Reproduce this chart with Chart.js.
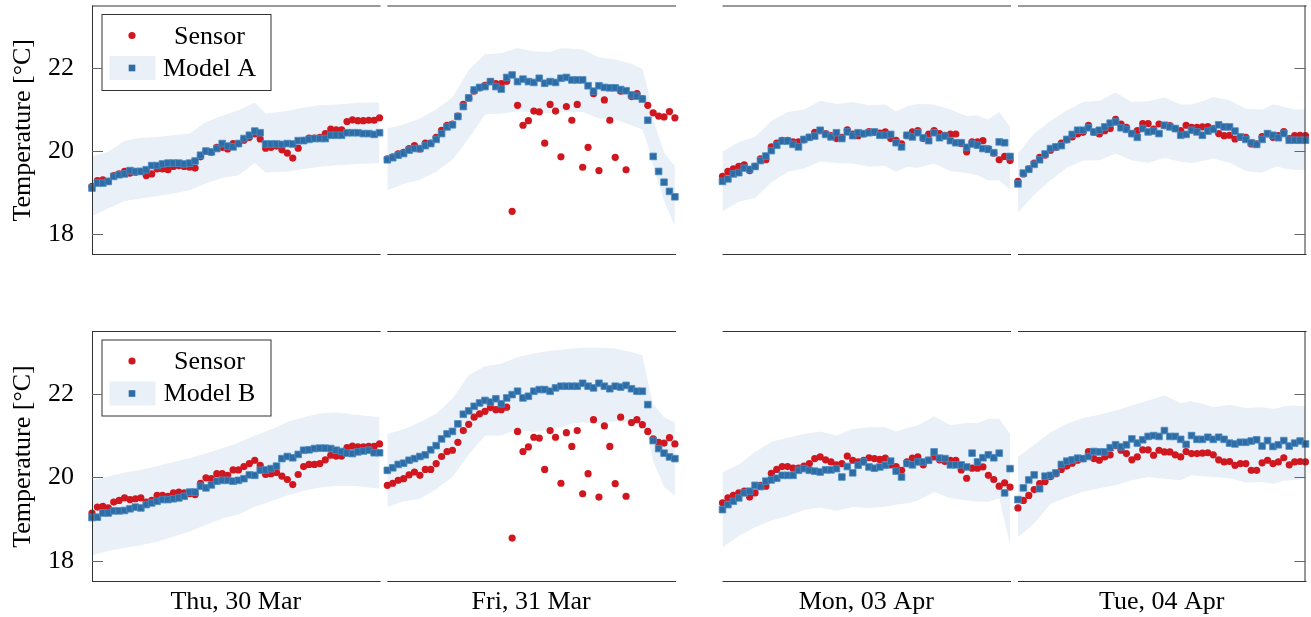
<!DOCTYPE html>
<html>
<head>
<meta charset="utf-8">
<script src="https://cdn.jsdelivr.net/npm/chart.js@4.4.1/dist/chart.umd.min.js"></script>
<style>
  html, body { margin: 0; padding: 0; background: #fff; }
  .row { position: absolute; left: 0; width: 1311px; }
  #rowA { top: 0; height: 300px; }
  #rowB { top: 300px; height: 317px; }
</style>
</head>
<body>
<div class="row" id="rowA"><canvas id="chartA"></canvas></div>
<div class="row" id="rowB"><canvas id="chartB"></canvas></div>
<script>
const days = ["Thu, 30 Mar", "Fri, 31 Mar", "Mon, 03 Apr", "Tue, 04 Apr"];
const yTicks = [18, 20, 22];

// 15-minute samples, one list per day
const sensorThu = [19.15, 19.29, 19.31, 19.27, 19.41, 19.45, 19.51, 19.47, 19.49, 19.51, 19.41, 19.45, 19.57, 19.57, 19.55, 19.63, 19.65, 19.63, 19.61, 19.59, 19.86, 19.99, 19.97, 20.09, 20.09, 20.05, 20.18, 20.18, 20.26, 20.33, 20.41, 20.29, 20.07, 20.09, 20.12, 20.03, 19.95, 19.83, 20.07, 20.26, 20.31, 20.31, 20.33, 20.42, 20.53, 20.51, 20.51, 20.71, 20.75, 20.73, 20.73, 20.74, 20.74, 20.80];
const sensorFri = [19.81, 19.86, 19.93, 19.97, 20.06, 20.13, 20.05, 20.19, 20.19, 20.33, 20.50, 20.62, 20.65, 20.84, 21.12, 21.27, 21.44, 21.52, 21.58, 21.67, 21.62, 21.62, 21.68, 18.55, 21.10, 20.62, 20.73, 20.96, 20.94, 20.19, 21.12, 20.96, 19.86, 21.07, 20.74, 21.12, 19.61, 20.09, 21.38, 19.53, 21.23, 20.74, 19.85, 21.44, 19.55, 21.31, 21.38, 21.26, 21.10, 20.92, 20.84, 20.82, 20.95, 20.80];
const sensorMon = [19.39, 19.51, 19.57, 19.63, 19.67, 19.53, 19.63, 19.81, 19.79, 20.10, 20.19, 20.26, 20.26, 20.22, 20.22, 20.27, 20.33, 20.45, 20.49, 20.42, 20.37, 20.30, 20.33, 20.51, 20.41, 20.37, 20.41, 20.47, 20.45, 20.43, 20.46, 20.30, 20.26, 20.17, 20.37, 20.46, 20.49, 20.30, 20.41, 20.49, 20.42, 20.38, 20.41, 20.41, 20.18, 19.98, 20.22, 20.22, 20.25, 20.05, 19.95, 19.79, 19.87, 19.77];
const sensorTue = [19.27, 19.45, 19.57, 19.71, 19.85, 19.90, 20.02, 20.09, 20.19, 20.27, 20.34, 20.41, 20.45, 20.62, 20.45, 20.41, 20.49, 20.54, 20.76, 20.65, 20.57, 20.42, 20.49, 20.66, 20.66, 20.53, 20.65, 20.61, 20.61, 20.54, 20.49, 20.62, 20.57, 20.57, 20.58, 20.59, 20.54, 20.42, 20.37, 20.38, 20.29, 20.33, 20.33, 20.17, 20.17, 20.35, 20.41, 20.33, 20.37, 20.47, 20.30, 20.37, 20.38, 20.37];

const modelAThu = [19.11, 19.23, 19.23, 19.27, 19.39, 19.43, 19.45, 19.53, 19.51, 19.51, 19.55, 19.65, 19.65, 19.69, 19.71, 19.71, 19.71, 19.69, 19.71, 19.76, 19.90, 20.00, 19.98, 20.06, 20.18, 20.12, 20.10, 20.18, 20.30, 20.38, 20.48, 20.44, 20.17, 20.17, 20.17, 20.16, 20.18, 20.17, 20.25, 20.25, 20.28, 20.30, 20.30, 20.30, 20.38, 20.38, 20.38, 20.44, 20.44, 20.44, 20.42, 20.42, 20.40, 20.44];
const modelAFri = [19.79, 19.84, 19.90, 19.94, 20.02, 20.06, 20.06, 20.13, 20.18, 20.28, 20.42, 20.58, 20.63, 20.83, 21.07, 21.28, 21.47, 21.53, 21.55, 21.67, 21.55, 21.49, 21.77, 21.83, 21.67, 21.73, 21.67, 21.65, 21.75, 21.63, 21.67, 21.65, 21.75, 21.77, 21.71, 21.71, 21.71, 21.57, 21.44, 21.57, 21.53, 21.52, 21.52, 21.48, 21.45, 21.35, 21.32, 21.25, 20.74, 19.87, 19.51, 19.25, 19.03, 18.90];
const modelAMon = [19.27, 19.33, 19.45, 19.48, 19.59, 19.56, 19.63, 19.77, 19.88, 20.01, 20.14, 20.24, 20.24, 20.16, 20.10, 20.28, 20.33, 20.36, 20.50, 20.40, 20.34, 20.44, 20.30, 20.46, 20.37, 20.44, 20.42, 20.44, 20.46, 20.38, 20.38, 20.40, 20.20, 20.10, 20.38, 20.34, 20.44, 20.32, 20.25, 20.44, 20.32, 20.36, 20.25, 20.20, 20.20, 20.09, 20.17, 20.14, 20.06, 20.04, 19.96, 20.22, 20.20, 19.87];
const modelATue = [19.21, 19.47, 19.56, 19.68, 19.79, 19.93, 20.06, 20.10, 20.13, 20.28, 20.40, 20.50, 20.50, 20.56, 20.46, 20.50, 20.58, 20.67, 20.70, 20.56, 20.52, 20.42, 20.33, 20.54, 20.46, 20.48, 20.42, 20.62, 20.58, 20.54, 20.38, 20.40, 20.50, 20.46, 20.38, 20.48, 20.52, 20.63, 20.58, 20.58, 20.48, 20.34, 20.28, 20.20, 20.16, 20.28, 20.42, 20.38, 20.32, 20.42, 20.26, 20.26, 20.26, 20.26];

const modelBThu = [19.04, 19.05, 19.15, 19.15, 19.20, 19.20, 19.21, 19.25, 19.29, 19.27, 19.35, 19.39, 19.43, 19.47, 19.47, 19.49, 19.51, 19.55, 19.65, 19.65, 19.79, 19.75, 19.82, 19.91, 19.93, 19.93, 19.91, 19.93, 19.97, 20.06, 20.05, 20.17, 20.18, 20.21, 20.27, 20.45, 20.50, 20.47, 20.55, 20.65, 20.66, 20.69, 20.70, 20.70, 20.69, 20.65, 20.62, 20.58, 20.57, 20.61, 20.63, 20.65, 20.59, 20.59];
const modelBFri = [20.17, 20.23, 20.31, 20.34, 20.41, 20.45, 20.50, 20.54, 20.66, 20.76, 20.92, 21.04, 21.10, 21.28, 21.51, 21.59, 21.70, 21.78, 21.84, 21.80, 21.88, 21.76, 21.90, 21.98, 22.06, 21.90, 21.94, 22.06, 22.10, 22.10, 22.06, 22.14, 22.18, 22.18, 22.18, 22.18, 22.25, 22.18, 22.14, 22.25, 22.18, 22.12, 22.18, 22.16, 22.20, 22.12, 22.06, 22.06, 21.74, 20.88, 20.69, 20.58, 20.49, 20.45];
const modelBMon = [19.23, 19.35, 19.43, 19.51, 19.63, 19.67, 19.81, 19.78, 19.91, 19.94, 19.98, 20.05, 20.05, 20.05, 20.17, 20.21, 20.17, 20.15, 20.13, 20.18, 20.18, 20.21, 20.01, 20.26, 20.11, 20.29, 20.37, 20.25, 20.22, 20.25, 20.29, 20.39, 20.15, 20.01, 20.33, 20.30, 20.37, 20.37, 20.41, 20.61, 20.46, 20.45, 20.30, 20.30, 20.30, 20.25, 20.58, 20.37, 20.47, 20.54, 20.47, 20.58, 19.63, 20.21];
const modelBTue = [19.47, 19.75, 19.94, 20.06, 19.73, 20.03, 20.05, 20.11, 20.31, 20.39, 20.42, 20.46, 20.45, 20.50, 20.62, 20.61, 20.61, 20.71, 20.78, 20.73, 20.78, 20.92, 20.82, 20.90, 20.98, 21.00, 20.98, 21.12, 20.98, 20.98, 20.91, 20.79, 21.00, 20.91, 20.91, 20.96, 20.91, 20.96, 20.91, 20.82, 20.80, 20.84, 20.84, 20.87, 20.90, 20.75, 20.88, 20.74, 20.78, 20.88, 20.75, 20.82, 20.87, 20.80];

// uncertainty band, sampled at these sample indices
const bandIdx = [0, 3, 6, 9, 12, 15, 18, 21, 24, 27, 30, 32, 34, 36, 39, 42, 45, 47, 48, 49, 51, 53];

const bandAUpThu = [19.87, 19.98, 20.25, 20.32, 20.34, 20.38, 20.42, 20.70, 20.85, 20.98, 21.17, 20.90, 20.93, 20.96, 21.05, 21.10, 21.12, 21.14, 21.15, 21.16, 21.17, 21.17];
const bandALoThu = [18.44, 18.62, 18.80, 18.86, 18.92, 18.98, 19.06, 19.22, 19.35, 19.42, 19.71, 19.48, 19.50, 19.50, 19.57, 19.62, 19.66, 19.67, 19.68, 19.69, 19.70, 19.71];
const bandAUpFri = [20.54, 20.64, 20.78, 21.00, 21.29, 21.95, 22.33, 22.35, 22.48, 22.40, 22.38, 22.47, 22.46, 22.44, 22.25, 22.20, 22.10, 21.98, 21.50, 20.75, 19.97, 19.63];
const bandALoFri = [19.06, 19.21, 19.31, 19.50, 19.79, 20.30, 20.88, 20.90, 20.95, 20.93, 20.91, 20.93, 20.94, 20.94, 20.78, 20.76, 20.62, 20.52, 20.15, 19.65, 18.80, 18.20];
const bandAUpMon = [19.98, 20.22, 20.34, 20.72, 20.94, 21.00, 21.21, 21.13, 21.18, 21.10, 21.12, 20.95, 21.08, 21.13, 21.12, 21.00, 20.84, 20.86, 20.80, 20.76, 20.94, 20.58];
const bandALoMon = [18.56, 18.78, 18.87, 19.25, 19.50, 19.58, 19.75, 19.71, 19.70, 19.63, 19.64, 19.50, 19.62, 19.60, 19.70, 19.52, 19.47, 19.42, 19.35, 19.30, 19.30, 19.07];
const bandAUpTue = [19.94, 20.42, 20.72, 20.98, 21.18, 21.21, 21.41, 21.18, 21.20, 21.29, 21.12, 21.12, 21.20, 21.30, 21.22, 21.02, 21.00, 21.12, 21.10, 21.06, 21.00, 21.00];
const bandALoTue = [18.52, 18.95, 19.30, 19.60, 19.77, 19.78, 19.94, 19.77, 19.72, 19.83, 19.74, 19.71, 19.76, 19.82, 19.72, 19.52, 19.48, 19.60, 19.62, 19.58, 19.55, 19.55];

const bandBUpThu = [19.93, 20.02, 20.12, 20.18, 20.27, 20.37, 20.46, 20.57, 20.70, 20.83, 21.00, 21.10, 21.20, 21.33, 21.44, 21.53, 21.55, 21.53, 21.50, 21.49, 21.47, 21.44];
const bandBLoThu = [18.14, 18.24, 18.32, 18.38, 18.46, 18.58, 18.71, 18.87, 19.02, 19.12, 19.30, 19.38, 19.48, 19.57, 19.68, 19.76, 19.80, 19.80, 19.80, 19.79, 19.76, 19.73];
const bandBUpFri = [21.04, 21.15, 21.32, 21.52, 21.88, 22.45, 22.66, 22.72, 22.88, 22.96, 23.03, 23.05, 23.08, 23.10, 23.10, 23.08, 23.00, 22.92, 22.30, 21.75, 21.44, 21.32];
const bandBLoFri = [19.29, 19.43, 19.49, 19.72, 20.01, 20.55, 21.00, 21.00, 21.15, 21.08, 21.15, 21.20, 21.28, 21.32, 21.28, 21.34, 21.30, 21.29, 21.00, 20.40, 19.77, 19.57];
const bandBUpMon = [20.13, 20.30, 20.61, 20.85, 20.95, 21.04, 21.10, 21.00, 21.16, 21.20, 21.20, 21.10, 21.18, 21.24, 21.46, 21.25, 21.30, 21.30, 21.35, 21.40, 21.40, 21.04];
const bandBLoMon = [18.33, 18.60, 18.81, 18.97, 19.08, 19.22, 19.28, 19.20, 19.29, 19.27, 19.30, 19.35, 19.38, 19.45, 19.65, 19.50, 19.45, 19.42, 19.42, 19.42, 19.50, 18.40];
const bandBUpTue = [20.49, 20.78, 21.08, 21.28, 21.42, 21.50, 21.60, 21.72, 21.84, 21.96, 21.78, 21.82, 21.76, 21.68, 21.74, 21.66, 21.68, 21.64, 21.66, 21.70, 21.72, 21.70];
const bandBLoTue = [18.57, 18.90, 19.37, 19.52, 19.66, 19.74, 19.81, 19.93, 20.01, 19.97, 19.93, 20.05, 20.03, 20.01, 19.98, 19.88, 19.89, 19.85, 19.88, 19.92, 19.94, 19.97];

const RED = "#d0171f";
const BLUE = "#2d6ca4";
const BLUE_EDGE = "#4d8bc3";
const BAND = "#e9f0f8";
const FRAME = "#333333";
const FONT = '"Liberation Serif", "Times New Roman", serif';

Chart.defaults.font.family = FONT;
Chart.defaults.color = "#000";

// broken x axis: each day is a block of samples, small gaps between blocks
const panelStart = [0, 54.43, 116.2, 170.65];
const steps = sensorThu.length - 1;
const xMax = panelStart[3] + steps;

function toPoints(lists) {
  return lists.flatMap((vals, p) =>
    vals.map((v, i) => ({ x: panelStart[p] + i, y: v })),
  );
}

function bandPoints(vals, p) {
  return bandIdx.map((ix, k) => ({ x: panelStart[p] + ix, y: vals[k] }));
}

const framePlugin = {
  id: "frames",
  afterDatasetsDraw(chart) {
    const { ctx, chartArea: a, scales } = chart;
    const x = scales.x;
    const y = scales.y;
    ctx.save();
    ctx.strokeStyle = FRAME;
    ctx.lineWidth = 1;
    ctx.beginPath();
    panelStart.forEach((s) => {
      const l = x.getPixelForValue(s);
      const r = x.getPixelForValue(s + steps) + 1;
      ctx.moveTo(l, a.top + 0.5);
      ctx.lineTo(r, a.top + 0.5);
      ctx.moveTo(l, a.bottom - 0.5);
      ctx.lineTo(r, a.bottom - 0.5);
    });
    ctx.moveTo(a.left + 0.5, a.top);
    ctx.lineTo(a.left + 0.5, a.bottom);
    ctx.moveTo(a.right - 0.5, a.top);
    ctx.lineTo(a.right - 0.5, a.bottom);
    ctx.stroke();

    // inward tick marks on the outer borders
    ctx.strokeStyle = "#666";
    ctx.beginPath();
    yTicks.forEach((v) => {
      const py = Math.round(y.getPixelForValue(v)) + 0.5;
      ctx.moveTo(a.left, py);
      ctx.lineTo(a.left + 11, py);
      ctx.moveTo(a.right, py);
      ctx.lineTo(a.right - 11, py);
    });
    ctx.stroke();
    ctx.restore();
  },
};

const legendPlugin = {
  id: "panelLegend",
  afterDraw(chart, args, opts) {
    const { ctx, chartArea: a } = chart;
    const left = a.left + 9.5;
    const top = a.top + 8.5;
    const w = 169;
    const h = 76;
    ctx.save();
    ctx.fillStyle = "#fff";
    ctx.fillRect(left, top, w, h);
    ctx.strokeStyle = FRAME;
    ctx.lineWidth = 1;
    ctx.strokeRect(left + 0.5, top + 0.5, w, h);

    const mx = left + 30.5;
    const row1 = top + 21.5;
    const row2 = top + 54;

    ctx.fillStyle = RED;
    ctx.beginPath();
    ctx.arc(mx, row1, 3.6, 0, Math.PI * 2);
    ctx.fill();

    ctx.fillStyle = BAND;
    ctx.fillRect(left + 8, row2 - 12, 46, 24);
    ctx.fillStyle = BLUE;
    ctx.fillRect(mx - 3.3, row2 - 3.3, 6.6, 6.6);

    ctx.fillStyle = "#000";
    ctx.font = "26px " + FONT;
    ctx.textAlign = "center";
    ctx.textBaseline = "alphabetic";
    ctx.fillText(opts.labels[0], left + 108, top + 29.5);
    ctx.fillText(opts.labels[1], left + 108, top + 61.5);
    ctx.restore();
  },
};

function buildChart(canvasId, cfg) {
  const datasets = [];
  cfg.bandUp.forEach((up, p) => {
    datasets.push({
      label: "band-up-" + p,
      data: bandPoints(up, p),
      fill: "+1",
      backgroundColor: BAND,
      borderWidth: 0,
      pointRadius: 0,
      order: 3,
    });
    datasets.push({
      label: "band-lo-" + p,
      data: bandPoints(cfg.bandLo[p], p),
      fill: false,
      borderWidth: 0,
      pointRadius: 0,
      order: 3,
    });
  });
  datasets.push({
    label: "Sensor",
    data: toPoints([sensorThu, sensorFri, sensorMon, sensorTue]),
    showLine: false,
    pointStyle: "circle",
    pointRadius: 3.6,
    pointBackgroundColor: RED,
    pointBorderWidth: 0,
    order: 2,
    clip: false,
  });
  datasets.push({
    label: cfg.label,
    data: toPoints(cfg.model),
    showLine: false,
    pointStyle: "rect",
    pointRadius: 4.7,
    pointBackgroundColor: BLUE,
    pointBorderColor: BLUE_EDGE,
    pointBorderWidth: 0.8,
    order: 1,
    clip: false,
  });

  return new Chart(document.getElementById(canvasId), {
    type: "line",
    data: { datasets },
    options: {
      responsive: true,
      maintainAspectRatio: false,
      animation: false,
      events: [],
      layout: { padding: cfg.padding },
      scales: {
        x: {
          type: "linear",
          min: 0,
          max: xMax,
          display: cfg.showDays,
          afterBuildTicks: (s) => {
            s.ticks = panelStart.map((p) => ({ value: p + steps / 2 }));
          },
          afterFit: (s) => {
            s.height = cfg.showDays ? 35 : 0;
            s.paddingLeft = 0;
            s.paddingRight = 0;
          },
          grid: { display: false },
          border: { display: false },
          ticks: {
            color: "#000",
            padding: -3,
            font: { size: 26 },
            maxRotation: 0,
            autoSkip: false,
            callback: (v, i) => days[i],
          },
        },
        y: {
          min: 17.5,
          max: 23.5,
          afterBuildTicks: (s) => {
            s.ticks = yTicks.map((v) => ({ value: v }));
          },
          afterFit: (s) => {
            s.width = 92;
            s.paddingTop = 0;
            s.paddingBottom = 0;
          },
          grid: { display: false },
          border: { display: false },
          ticks: { color: "#000", padding: 10, font: { size: 26 } },
          title: {
            display: true,
            text: "Temperature [°C]",
            color: "#000",
            font: { size: 26 },
            padding: { top: 8, bottom: 0 },
          },
        },
      },
      plugins: {
        legend: { display: false },
        tooltip: { enabled: false },
        panelLegend: { labels: ["Sensor", cfg.label] },
      },
    },
    plugins: [framePlugin, legendPlugin],
  });
}

buildChart("chartA", {
  label: "Model A",
  model: [modelAThu, modelAFri, modelAMon, modelATue],
  bandUp: [bandAUpThu, bandAUpFri, bandAUpMon, bandAUpTue],
  bandLo: [bandALoThu, bandALoFri, bandALoMon, bandALoTue],
  showDays: false,
  padding: { top: 4, bottom: 45, left: 0, right: 3 },
});

buildChart("chartB", {
  label: "Model B",
  model: [modelBThu, modelBFri, modelBMon, modelBTue],
  bandUp: [bandBUpThu, bandBUpFri, bandBUpMon, bandBUpTue],
  bandLo: [bandBLoThu, bandBLoFri, bandBLoMon, bandBLoTue],
  showDays: true,
  padding: { top: 31, bottom: 0, left: 0, right: 3 },
});
</script>
</body>
</html>
